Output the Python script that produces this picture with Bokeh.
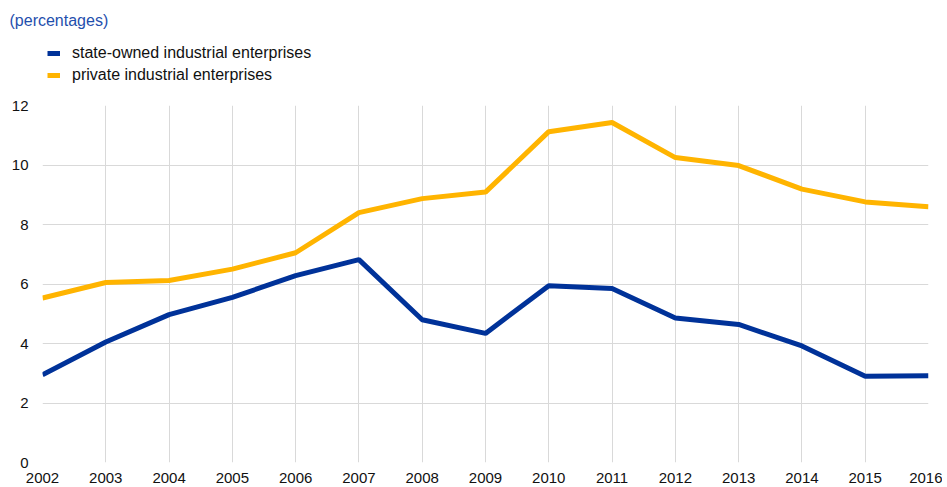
from bokeh.plotting import figure
from bokeh.models import FixedTicker, Legend, LegendItem, Range1d
from bokeh.layouts import column
from bokeh.embed import file_html
from bokeh.resources import INLINE

years = list(range(2002, 2017))
state_owned = [2.95, 4.05, 4.97, 5.55, 6.28, 6.82, 4.80, 4.34, 5.94, 5.85, 4.86, 4.64, 3.92, 2.90, 2.92]
private = [5.53, 6.05, 6.12, 6.50, 7.05, 8.40, 8.87, 9.09, 11.12, 11.43, 10.25, 9.98, 9.19, 8.76, 8.60]
y_ticks = [0, 2, 4, 6, 8, 10, 12]
series_names = ["state-owned industrial enterprises", "private industrial enterprises"]
colors = ["#003299", "#ffb400"]

FONT = "Liberation Sans"
W = 942

# ---- header figure: title + legend ----
head = figure(width=W, height=97, output_backend="svg", toolbar_location=None,
              x_range=Range1d(0, 1), y_range=Range1d(0, 1),
              x_axis_type=None, y_axis_type=None,
              min_border_left=0, min_border_right=14, min_border_top=28, min_border_bottom=0)
head.outline_line_color = None
head.xgrid.visible = False
head.ygrid.visible = False
head.title.text = "(percentages)"
head.title.text_font = FONT
head.title.text_font_size = "16px"
head.title.text_font_style = "normal"
head.title.text_color = "#1f4fad"
head.title.align = "left"
head.title.offset = -33
head.title.standoff = 0

h1 = head.line(years, state_owned, line_color=colors[0], line_width=5)
h2 = head.line(years, private, line_color=colors[1], line_width=5)

legend = Legend(items=[LegendItem(label=series_names[0], renderers=[h1]),
                       LegendItem(label=series_names[1], renderers=[h2])],
                location=(5, 13), orientation="vertical",
                label_text_font=FONT, label_text_font_size="16px", label_text_color="#111111",
                glyph_width=13, glyph_height=18, label_height=18, label_standoff=12,
                spacing=4, padding=2, margin=0,
                background_fill_alpha=0, border_line_color=None)
head.add_layout(legend, "center")

# ---- main chart ----
p = figure(width=W, height=388, output_backend="svg", toolbar_location=None,
           x_range=Range1d(2002, 2016), y_range=Range1d(0, 12),
           min_border_left=42, min_border_right=14, min_border_top=8, min_border_bottom=0)
p.outline_line_color = None

p.line(years, state_owned, line_color=colors[0], line_width=5)
p.line(years, private, line_color=colors[1], line_width=5)

for ax in (p.xaxis[0], p.yaxis[0]):
    ax.axis_line_color = None
    ax.major_tick_line_color = None
    ax.minor_tick_line_color = None
    ax.major_tick_out = 0
    ax.major_tick_in = 0
    ax.minor_tick_out = 0
    ax.major_label_text_font = FONT
    ax.major_label_text_font_size = "15px"
    ax.major_label_text_color = "#111111"

p.xaxis.ticker = FixedTicker(ticks=years)
p.yaxis.ticker = FixedTicker(ticks=y_ticks)
p.xaxis.major_label_standoff = 10
p.yaxis.major_label_standoff = 14

p.xgrid.ticker = FixedTicker(ticks=years)
p.ygrid.ticker = FixedTicker(ticks=y_ticks)
p.xgrid.grid_line_color = "#d9d9d9"
p.ygrid.grid_line_color = "#d9d9d9"

layout = column(head, p, spacing=0)
open("out.html", "w").write(file_html(layout, INLINE))
